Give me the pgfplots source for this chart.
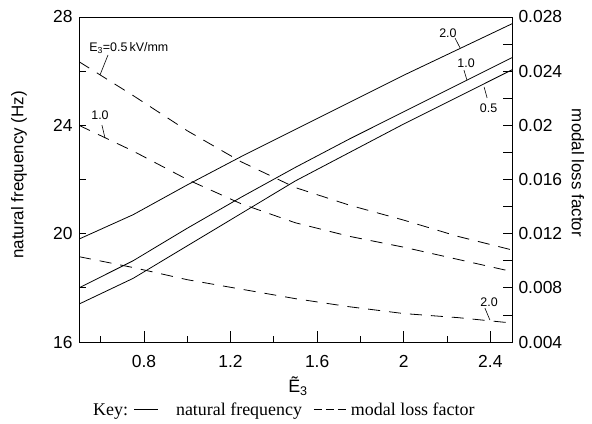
\documentclass[border=0pt]{standalone}
\usepackage{fontspec}
\setmainfont{Liberation Sans}
\newfontfamily\keyfont{Liberation Serif}
\usepackage{pgfplots}
\usepackage{pgfplotstable}
\pgfplotsset{compat=1.18}

\pgfplotstableread{
x     a     b     c
0.50  17.40 18.00 19.80
0.75  18.35 19.00 20.70
1.00  19.55 20.20 21.80
1.25  20.75 21.35 22.85
1.50  21.95 22.45 23.85
1.75  23.00 23.50 24.85
2.00  24.05 24.50 25.85
2.25  25.05 25.50 26.80
2.50  26.05 26.50 27.75
}\freq

\pgfplotstableread{
x     a      b      c
0.50  0.0247 0.0200 0.0103
0.75  0.0222 0.0181 0.0095
1.00  0.0196 0.0160 0.0086
1.25  0.0173 0.0142 0.0079
1.50  0.0154 0.0128 0.0072
1.75  0.0141 0.0118 0.0066
2.00  0.0130 0.0110 0.0061
2.25  0.0118 0.0101 0.0058
2.50  0.0108 0.0092 0.0054
}\loss

\pgfplotsset{
  base/.style={
    at={(79bp,82bp)}, anchor=south west,
    scale only axis, width=433bp, height=325bp,
    xmin=0.5, xmax=2.5,
    tick align=inside,
    tick label style={font=\fontsize{17.5}{20}\selectfont},
    /pgf/number format/assume math mode=true,
    axis line style={line width=0.8bp},
    every tick/.style={black, line width=0.8bp},
  },
  curve/.style={black, line width=0.8bp, no marks},
  dcurve/.style={black, line width=0.8bp, no marks, dash pattern=on 12bp off 9bp},
}

\begin{document}
\begin{tikzpicture}
\path[use as bounding box] (0,0) rectangle (592bp,424bp);

% main axis: x ticks, frame, frequency curves
\begin{axis}[base,
  ymin=16, ymax=28,
  xtick={0.8,1.2,1.6,2.0,2.4}, xticklabels={0.8,1.2,1.6,2,2.4},
  minor xtick={0.6,1.0,1.4,1.8,2.2},
  xtick pos=bottom, ytick=\empty,
  major tick length=11bp, minor tick length=6bp,
  xticklabel style={yshift=-10bp},
]
\addplot[curve] table[x=x,y=a] {\freq};
\addplot[curve] table[x=x,y=b] {\freq};
\addplot[curve] table[x=x,y=c] {\freq};

% annotations
\begin{scope}[font=\fontsize{12.5}{14}\selectfont, line width=0.6bp]
\node at (axis cs:2.204,27.41) {2.0};
\draw (axis cs:2.237,27.22) -- (axis cs:2.26,26.86);
\node at (axis cs:2.288,26.30) {1.0};
\draw (axis cs:2.278,26.04) -- (axis cs:2.292,25.67);
\node at (axis cs:2.392,24.62) {0.5};
\draw (axis cs:2.371,25.42) -- (axis cs:2.385,25.01);
\node at (axis cs:2.394,17.48) {2.0};
\draw (axis cs:2.375,17.25) -- (axis cs:2.398,16.81);
\node at (axis cs:0.73,26.86) {E\textsubscript{3}=0.5\,kV/mm};
\draw (axis cs:0.634,26.60) -- (axis cs:0.597,25.86);
\node at (axis cs:0.597,24.38) {1.0};
\draw (axis cs:0.606,24.01) -- (axis cs:0.620,23.53);
\end{scope}
\end{axis}

% left y axis ticks
\begin{axis}[base,
  ymin=16, ymax=28,
  hide x axis, axis y line*=left,
  ytick={16,20,24,28}, minor ytick={18,22,26},
  major tick length=7bp, minor tick length=7bp,
  yticklabel style={xshift=-3bp},
]
\addplot[draw=none] coordinates {(1,20)};
\end{axis}

% right y axis: modal loss factor
\begin{axis}[base,
  ymin=0.004, ymax=0.028,
  hide x axis, axis y line*=right,
  scaled y ticks=false,
  ytick={0.004,0.008,0.012,0.016,0.020,0.024,0.028},
  yticklabels={0.004,0.008,0.012,0.016,0.02,0.024,0.028},
  minor ytick={0.006,0.010,0.014,0.018,0.022,0.026},
  major tick length=9bp, minor tick length=9bp,
  yticklabel style={xshift=3bp},
]
\addplot[dcurve] table[x=x,y=a] {\loss};
\addplot[dcurve] table[x=x,y=b] {\loss};
\addplot[dcurve] table[x=x,y=c] {\loss};
\end{axis}

\node[rotate=90, font=\fontsize{17}{20}\selectfont] at (19bp,249bp) {natural frequency (Hz)};
\node[rotate=-90, font=\fontsize{17}{20}\selectfont] at (578bp,251bp) {modal loss factor};
\node[font=\fontsize{18}{20}\selectfont] at (298bp,38bp) {Ẽ\textsubscript{3}};
\node[font=\keyfont\fontsize{18}{20}\selectfont, anchor=west, inner sep=0pt] at (93bp,13bp)
  {Key: \rule[0.3em]{24bp}{0.6bp}\hspace{18bp}natural frequency\hspace{12bp}\rule[0.3em]{8bp}{0.6bp}\hspace{4bp}\rule[0.3em]{8bp}{0.6bp}\hspace{4bp}\rule[0.3em]{8bp}{0.6bp}\hspace{5bp}modal loss factor};
\end{tikzpicture}
\end{document}
